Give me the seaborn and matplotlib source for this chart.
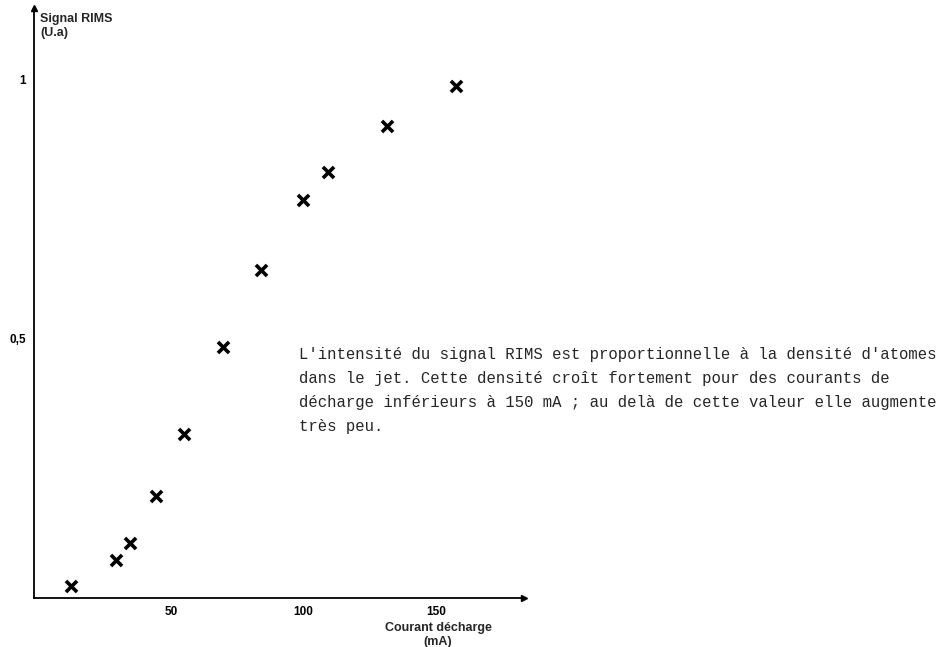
import pandas as pd
import matplotlib.pyplot as plt
import seaborn as sns

# -------------------------------
# 1. Data
# -------------------------------
courant_ma = [12.3, 29.4, 34.5, 44.5, 55.0, 69.7, 83.8, 99.9, 109.1, 131.4, 157.4]
signal_rims = [0.024, 0.074, 0.107, 0.197, 0.316, 0.484, 0.632, 0.768, 0.822, 0.910, 0.988]

x_ticks = [50, 100, 150]
x_tick_labels = ["50", "100", "150"]
y_ticks = [0.25, 0.5, 0.75, 1.0]
y_tick_labels = ["", "0,5", "", "1"]

note_lines = [
    "L'intensité du signal RIMS est proportionnelle à la densité d'atomes",
    "dans le jet. Cette densité croît fortement pour des courants de",
    "décharge inférieurs à 150 mA ; au delà de cette valeur elle augmente",
    "très peu.",
]

df = pd.DataFrame({"courant": courant_ma, "signal": signal_rims})

# -------------------------------
# 2. Plot
# -------------------------------
sns.set_style("white")
plt.rcParams['font.family'] = ['Liberation Sans', 'DejaVu Sans']

fig = plt.figure(figsize=(9.44, 6.47), dpi=100)
ax = fig.add_axes([34 / 944, 1 - 598 / 647, (524 - 34) / 944, (598 - 8) / 647])

sns.scatterplot(data=df, x="courant", y="signal", marker="x", s=64,
                color="black", linewidth=2.6, ax=ax)

ax.set_xlim(-1.5, 183)
ax.set_ylim(0, 1.138)

# axes with arrow heads, like the hand drawn original
for side in ["top", "right"]:
    ax.spines[side].set_visible(False)
for side in ["left", "bottom"]:
    ax.spines[side].set_linewidth(1.3)
    ax.spines[side].set_color("black")
ax.plot(1, 0, ">", color="black", markersize=5, transform=ax.transAxes, clip_on=False)
ax.plot(0, 1, "^", color="black", markersize=5, transform=ax.transAxes, clip_on=False)

ax.set_xticks(x_ticks)
ax.set_xticklabels(x_tick_labels)
ax.set_yticks(y_ticks)
ax.set_yticklabels(y_tick_labels)
ax.tick_params(axis="both", direction="inout", length=6, width=1.2, colors="black",
               labelsize=8.5, pad=3)
for lab in ax.get_xticklabels() + ax.get_yticklabels():
    lab.set_fontweight("bold")

ax.set_xlabel("")
ax.set_ylabel("")

# axis titles
fig.text(40 / 944, 1 - 26 / 647, "Signal RIMS\n(U.a)", fontsize=9, fontweight="bold",
         ha="left", va="center", linespacing=1.25)
fig.text(438 / 944, 1 - 635 / 647, "Courant décharge\n(mA)", fontsize=9, fontweight="bold",
         ha="center", va="center", linespacing=1.15)

# typewritten note
for i, line in enumerate(note_lines):
    fig.text(299 / 944, 1 - (355 + 24 * i) / 647, line, fontsize=11.25,
             family=["Liberation Mono", "DejaVu Sans Mono"], ha="left", va="center")

plt.savefig("out.png", dpi=100)
